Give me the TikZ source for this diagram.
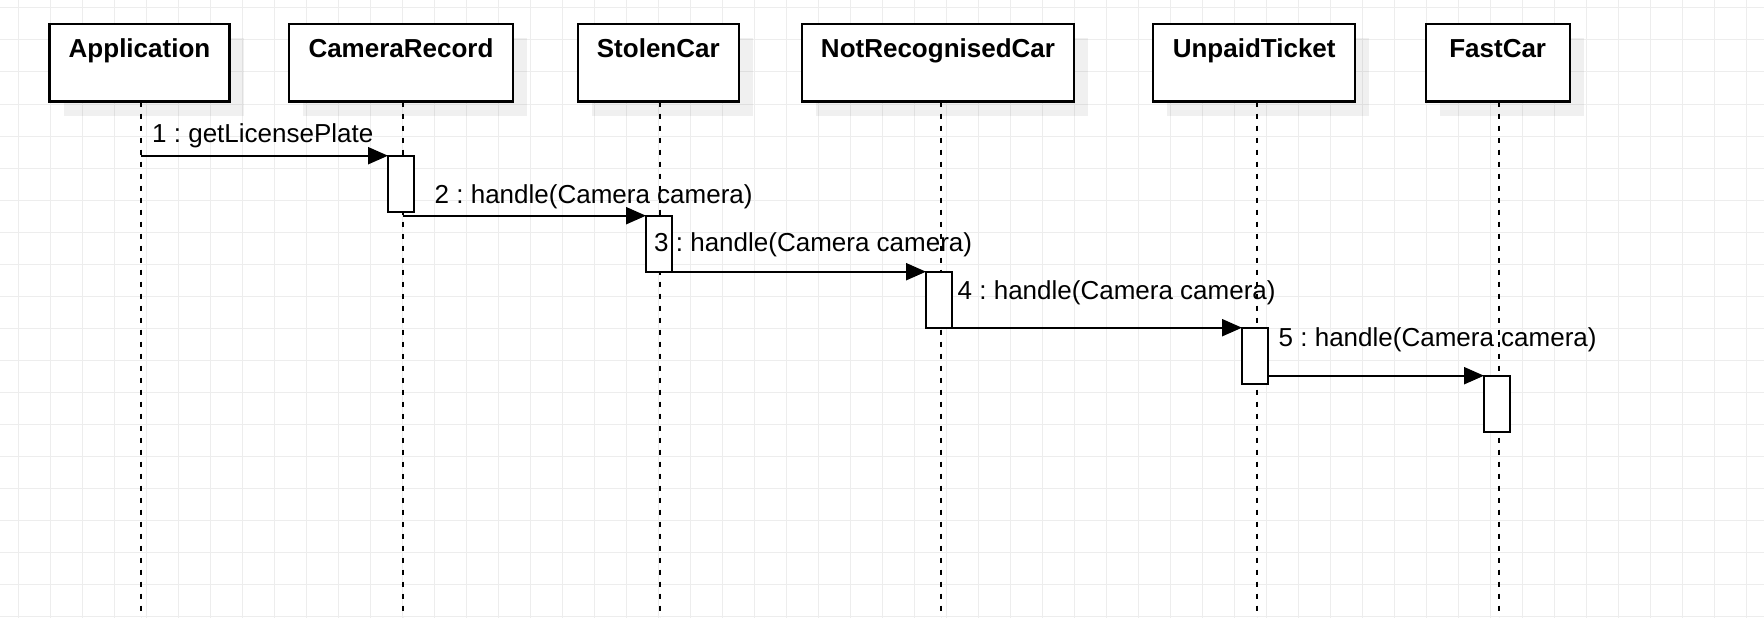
\documentclass[tikz,border=0pt]{standalone}
\usepackage{fontspec}
\setmainfont{Liberation Sans}
\usetikzlibrary{arrows.meta,shadows}
\definecolor{gridc}{HTML}{EDEDED}
\frenchspacing
\tikzset{
  objbox/.style={draw=black, line width=2.2pt, fill=white, minimum width=#1, minimum height=77.5pt,
    inner sep=0pt, outer sep=0pt, anchor=north,
    drop shadow={shadow xshift=14pt, shadow yshift=-14pt, fill=black, opacity=0.06}},
  objtitle/.style={font=\fontsize{26}{30}\selectfont\bfseries, anchor=base, inner sep=0pt},
  life/.style={line width=2pt, dash pattern=on 5.5pt off 6.5pt},
  actbox/.style={draw=black, line width=2.2pt, fill=white, minimum width=26pt, minimum height=56pt,
    inner sep=0pt, outer sep=0pt, anchor=north},
  msg/.style={line width=2.2pt, -{Triangle[length=20pt,width=17pt]}},
  msglabel/.style={font=\fontsize{26}{30}\selectfont, anchor=base west, inner sep=0pt},
  gridline/.style={draw=gridc, line width=1pt}
}
\begin{document}
\begin{tikzpicture}[x=1pt,y=-1pt]
\useasboundingbox (0,0) rectangle (1764,618);
\fill[white] (0,0) rectangle (1764,618);
% grid
\foreach \i in {0,...,54} \draw[gridline] (18.7+32*\i,0) -- (18.7+32*\i,618);
\foreach \j in {0,...,19} \draw[gridline] (0,8+32*\j) -- (1764,8+32*\j);
\coordinate (bot) at (0,618);
% object boxes
\node[objbox=180pt] (App) at (139.5,24) {};
\node[objbox=224pt] (CR) at (401,24) {};
\node[objbox=160.6pt] (SC) at (658.3,24) {};
\node[objbox=272.2pt] (NRC) at (938,24) {};
\node[objbox=201.7pt] (UT) at (1254.2,24) {};
\node[objbox=144pt] (FC) at (1497.7,24) {};
% titles
\node[objtitle] (tApp) at ([yshift=-33.3pt]App.north) {Application};
\node[objtitle] (tCR) at ([yshift=-33.3pt]CR.north) {CameraRecord};
\node[objtitle] (tSC) at ([yshift=-33.3pt]SC.north) {StolenCar};
\node[objtitle] (tNRC) at ([yshift=-33.3pt]NRC.north) {NotRecognisedCar};
\node[objtitle] (tUT) at ([yshift=-33.3pt]UT.north) {UnpaidTicket};
\node[objtitle] (tFC) at ([yshift=-33.3pt]FC.north) {FastCar};
% lifelines
\coordinate (lApp) at ([xshift=1.2pt]App.south);
\coordinate (lCR) at ([xshift=1.5pt]CR.south);
\coordinate (lSC) at ([xshift=2pt]SC.south);
\coordinate (lNRC) at ([xshift=2.5pt]NRC.south);
\coordinate (lUT) at ([xshift=2.3pt]UT.south);
\coordinate (lFC) at ([xshift=1.5pt]FC.south);
\foreach \l in {lApp,lCR,lSC,lNRC,lUT,lFC} \draw[life] (\l) -- (\l |- bot);
% activations
\node[actbox] (aCR) at (401,155.7) {};
\node[actbox] (aSC) at (659,215.7) {};
\node[actbox] (aNRC) at (939,271.7) {};
\node[actbox] (aUT) at (1255,327.7) {};
\node[actbox] (aFC) at (1497,375.7) {};
% messages
\draw[msg] (lApp |- aCR.north west) -- (aCR.north west);
\draw[msg] (lCR |- aSC.north west) -- (aSC.north west);
\draw[msg] (aSC.south) -- (aNRC.north west);
\draw[msg] (aNRC.south east) -- (aUT.north west);
\draw[msg] (aUT.east |- aFC.north west) -- (aFC.north west);
% labels
\node[msglabel] (m1) at (152,142.7) {1 : getLicensePlate};
\node[msglabel] (m2) at (434.5,203) {2 : handle(Camera camera)};
\node[msglabel] (m3) at (654,251) {3 : handle(Camera camera)};
\node[msglabel] (m4) at (957.5,299) {4 : handle(Camera camera)};
\node[msglabel] (m5) at (1278.5,346.7) {5 : handle(Camera camera)};
\end{tikzpicture}
\end{document}
